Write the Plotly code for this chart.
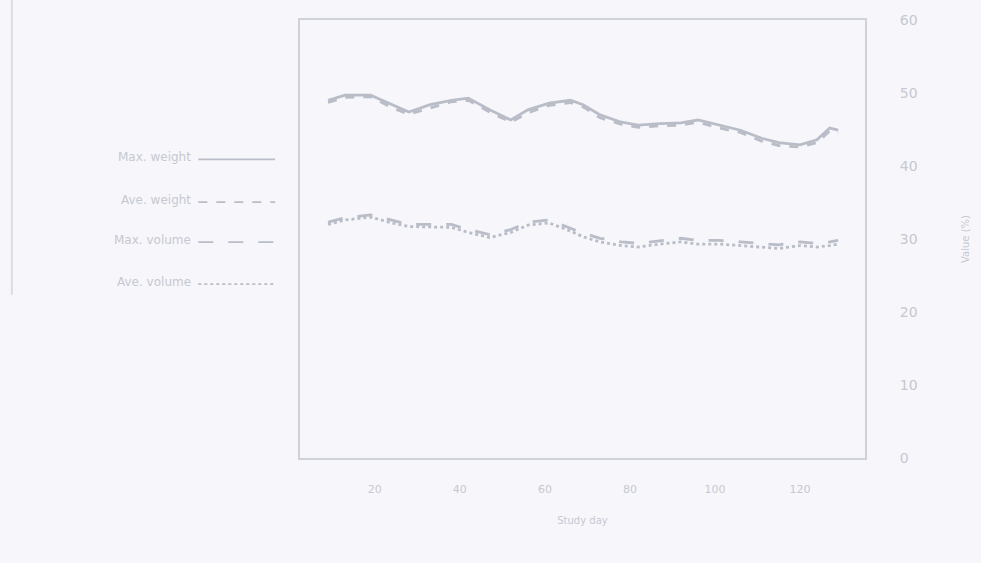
import plotly.graph_objects as go

# Day of study at each reading
days = [9, 13, 19, 24, 28, 33, 38, 42, 47, 52, 56, 61, 66, 69,
        73, 78, 82, 87, 92, 96, 101, 106, 111, 115, 120, 124, 127, 129]

# Upper pair of series
max_weight = [49.0, 49.7, 49.7, 48.4, 47.4, 48.4, 49.0, 49.3, 47.7, 46.3, 47.7, 48.6, 49.0, 48.4,
              47.0, 46.0, 45.6, 45.8, 45.9, 46.3, 45.6, 44.9, 43.8, 43.2, 42.9, 43.6, 45.2, 44.9]
ave_weight = [48.7, 49.4, 49.5, 48.0, 47.1, 48.0, 48.8, 49.0, 47.4, 46.0, 47.3, 48.3, 48.7, 48.1,
              46.6, 45.7, 45.3, 45.5, 45.6, 46.0, 45.2, 44.6, 43.4, 42.8, 42.6, 43.2, 44.8, 44.5]

# Lower pair of series
max_volume = [32.3, 32.9, 33.3, 32.6, 32.0, 32.0, 32.0, 31.3, 30.6, 31.3, 32.3, 32.6, 31.5, 30.8,
              30.1, 29.6, 29.4, 29.8, 30.1, 29.8, 29.8, 29.6, 29.4, 29.2, 29.6, 29.4, 29.6, 29.8]
ave_volume = [32.0, 32.6, 33.0, 32.2, 31.7, 31.6, 31.6, 30.9, 30.2, 30.9, 31.9, 32.2, 31.1, 30.3,
              29.6, 29.1, 28.9, 29.3, 29.6, 29.3, 29.3, 29.1, 28.9, 28.7, 29.1, 28.9, 29.1, 29.3]

series_names = ["Max. weight", "Ave. weight", "Max. volume", "Ave. volume"]
series_dash = ["solid", "dash", "longdash", "dot"]

x_ticks = [20, 40, 60, 80, 100, 120]
x_tick_labels = ["20", "40", "60", "80", "100", "120"]
y_ticks = [0, 10, 20, 30, 40, 50, 60]

line_col = "#b9bdc7"
text_col = "#c6c8d1"
bg = "#f7f7fb"

fig = go.Figure()
for name, vals, dash in zip(series_names, [max_weight, ave_weight, max_volume, ave_volume], series_dash):
    fig.add_trace(go.Scatter(x=days, y=vals, mode="lines", name=name,
                             line=dict(color=line_col, width=2.8, dash=dash),
                             showlegend=False))

# Hand-drawn style key on the left: label text followed by a line sample
key_y = [0.687, 0.589, 0.498, 0.402]
shapes = []
annotations = []
for name, dash, ky in zip(series_names, series_dash, key_y):
    annotations.append(dict(xref="paper", yref="paper", x=-0.19, y=ky, text=name,
                            xanchor="right", yanchor="middle", showarrow=False,
                            font=dict(size=12, color=text_col)))
    shapes.append(dict(type="line", xref="paper", yref="paper", x0=-0.18, x1=-0.044,
                       y0=ky - 0.005, y1=ky - 0.005, line=dict(color=line_col, width=1.8, dash=dash)))
# key frame edge
shapes.append(dict(type="line", xref="paper", yref="paper", x0=-0.51, x1=-0.51,
                   y0=0.372, y1=1.05, line=dict(color="#dcdde3", width=2)))

fig.update_layout(
    width=981, height=563,
    margin=dict(l=300, r=116, t=20, b=105),
    paper_bgcolor=bg, plot_bgcolor=bg,
    font=dict(family="DejaVu Sans", color=text_col),
    shapes=shapes, annotations=annotations,
    xaxis=dict(range=[2.4, 135.3], tickvals=x_ticks, ticktext=x_tick_labels,
               showgrid=False, zeroline=False, showline=True, mirror=True,
               linecolor="#d0d2d9", linewidth=2, ticks="", ticklabelstandoff=20,
               tickfont=dict(size=11, color=text_col),
               title=dict(text="Study day", font=dict(size=10, color=text_col), standoff=22)),
    yaxis=dict(range=[0, 60], tickvals=y_ticks, side="right",
               showgrid=False, zeroline=False, showline=True, mirror=True,
               linecolor="#d0d2d9", linewidth=2, ticks="", ticklabelstandoff=30,
               tickfont=dict(size=14, color=text_col),
               title=dict(text="Value (%)", font=dict(size=10, color=text_col), standoff=45)),
)

fig.write_html("out.html")
